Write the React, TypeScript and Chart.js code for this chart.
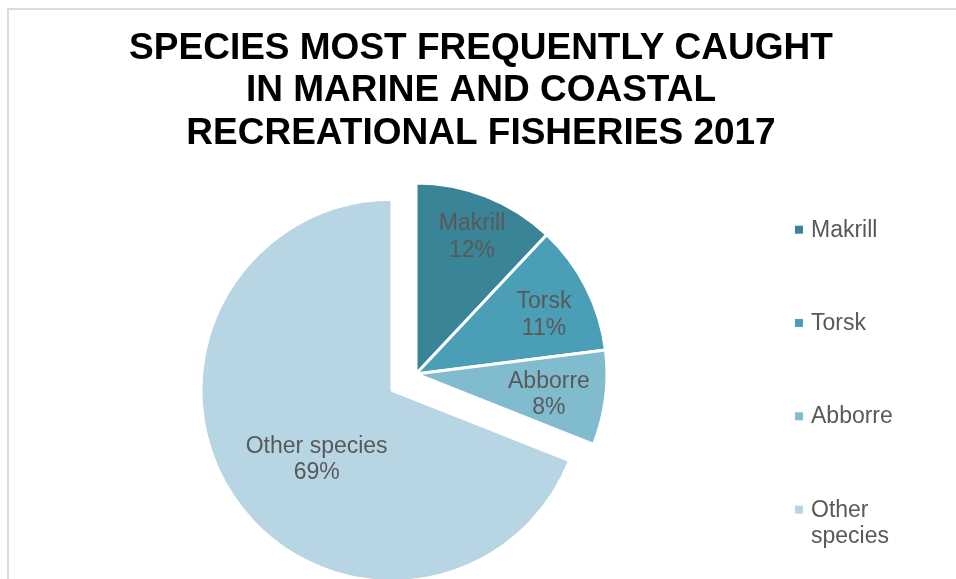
import React, { useEffect, useRef } from "react";
import { Chart, registerables } from "chart.js";

Chart.register(...registerables);

// ---- data ----
const TITLE_LINES = ["SPECIES MOST FREQUENTLY CAUGHT", "IN MARINE AND COASTAL", "RECREATIONAL FISHERIES 2017"];
const SPECIES = ["Makrill", "Torsk", "Abborre", "Other species"];
const SHARES = [12, 11, 8, 69];
const LEGEND_LINES = [["Makrill"], ["Torsk"], ["Abborre"], ["Other", "species"]];
const COLORS = ["#3a8497", "#4a9fb7", "#80bccd", "#b7d5e2"];
const EXPLODE = [0, 0, 0, 116];

// ---- style / placement constants ----
const RADIUS = 191;
const FONT = "'Liberation Sans', Arial, sans-serif";
const LABEL_PLACE = [
  { r: 0.783, a: 0.4 },
  { r: 0.741, a: 1.7 },
  { r: 0.703, a: 0.9 },
  { r: 0.53, a: -7.7 },
];

// keep exploded slices at the same radius and angular extent as the others
const explodeFix = {
  id: "explodeFix",
  afterDatasetsUpdate(chart: any) {
    const meta = chart.getDatasetMeta(0);
    meta.data.forEach((arc: any, i: number) => {
      const off = (EXPLODE[i] || 0) / 4;
      const fix = 1 - Math.sin(Math.min(Math.PI, arc.circumference || 0));
      const rOff = off * fix;
      arc.outerRadius = RADIUS - rOff;
      if (rOff > 0) {
        const ang = rOff / (2 * Math.PI * RADIUS);
        arc.startAngle -= ang;
        arc.endAngle += ang;
      }
    });
  },
};

const decor = {
  id: "decor",
  beforeDraw(chart: any) {
    const ctx = chart.ctx;
    ctx.save();
    ctx.fillStyle = "#ffffff";
    ctx.fillRect(0, 0, chart.width, chart.height);
    ctx.strokeStyle = "#dcdcdc";
    ctx.lineWidth = 2;
    ctx.beginPath();
    ctx.moveTo(8, chart.height + 5);
    ctx.lineTo(8, 9);
    ctx.lineTo(chart.width + 5, 9);
    ctx.stroke();
    ctx.restore();
  },
  afterDraw(chart: any) {
    const ctx = chart.ctx;
    ctx.save();
    // title
    ctx.fillStyle = "#000000";
    ctx.font = `bold 37px ${FONT}`;
    ctx.textAlign = "center";
    ctx.textBaseline = "alphabetic";
    TITLE_LINES.forEach((t, i) => ctx.fillText(t, 481, 58.5 + i * 42.5));

    // legend
    ctx.font = `23px ${FONT}`;
    ctx.textAlign = "left";
    LEGEND_LINES.forEach((lines, i) => {
      const base = 236.7 + i * 93.3;
      ctx.fillStyle = COLORS[i];
      ctx.fillRect(795, base - 11, 8, 8);
      ctx.fillStyle = "#595959";
      lines.forEach((ln, j) => ctx.fillText(ln, 811, base + j * 26.8));
    });
    ctx.restore();
  },
  afterDatasetsDraw(chart: any) {
    const ctx = chart.ctx;
    const meta = chart.getDatasetMeta(0);
    ctx.save();
    ctx.font = `23px ${FONT}`;
    ctx.textAlign = "center";
    ctx.textBaseline = "alphabetic";
    ctx.fillStyle = "#595959";
    meta.data.forEach((arc: any, i: number) => {
      const mid = (arc.startAngle + arc.endAngle) / 2;
      const off = (EXPLODE[i] || 0) / 4;
      const cx = arc.x + Math.cos(mid) * off;
      const cy = arc.y + Math.sin(mid) * off;
      const p = LABEL_PLACE[i];
      const ang = mid + (p.a * Math.PI) / 180;
      const lx = cx + Math.cos(ang) * RADIUS * p.r;
      const ly = cy + Math.sin(ang) * RADIUS * p.r;
      ctx.fillText(SPECIES[i], lx, ly - 13.3 + 8.2);
      ctx.fillText(`${SHARES[i]}%`, lx, ly + 13.3 + 8.2);
    });
    ctx.restore();
  },
};

export default function App() {
  const ref = useRef<HTMLCanvasElement | null>(null);
  useEffect(() => {
    if (!ref.current) return;
    const chart = new Chart(ref.current, {
      type: "pie",
      data: {
        labels: SPECIES,
        datasets: [
          {
            data: SHARES,
            backgroundColor: COLORS,
            borderColor: "#ffffff",
            borderWidth: 3,
            offset: EXPLODE,
            hoverOffset: 0,
            clip: false,
          } as any,
        ],
      },
      options: {
        responsive: false,
        animation: false,
        events: [],
        radius: RADIUS,
        layout: { padding: { left: 0, right: 124, top: 172, bottom: 3 } },
        plugins: {
          legend: { display: false },
          title: { display: false },
          tooltip: { enabled: false },
        },
      } as any,
      plugins: [explodeFix, decor],
    });
    return () => chart.destroy();
  }, []);
  return (
    <div style={{ position: "fixed", left: 0, top: 0, width: 956, height: 579, overflow: "hidden", background: "#fff" }}>
      <canvas ref={ref} width={956} height={579} style={{ display: "block", width: 956, height: 579 }} />
    </div>
  );
}
